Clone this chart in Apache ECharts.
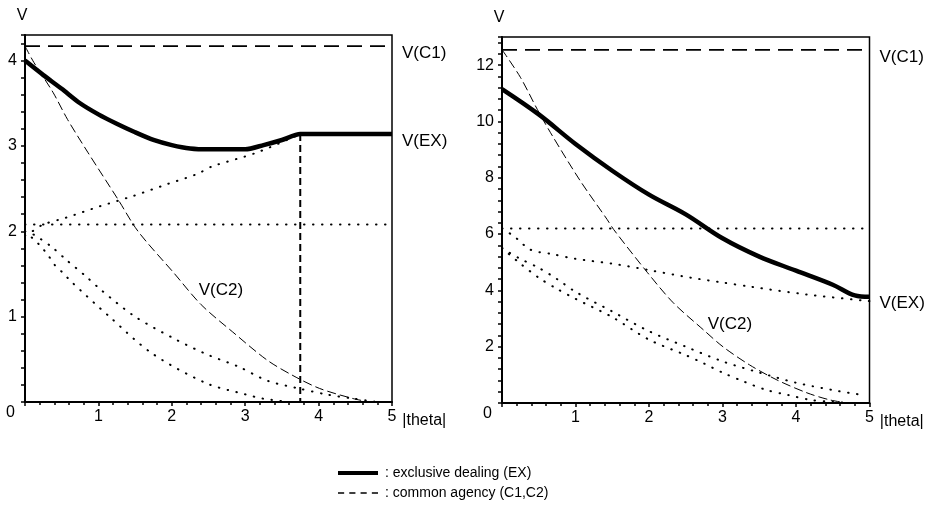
<!DOCTYPE html>
<html>
<head>
<meta charset="utf-8">
<script src="https://cdn.jsdelivr.net/npm/echarts@6/dist/echarts.min.js"></script>
<style>
html,body{margin:0;padding:0;background:#fff;}
#c{width:933px;height:520px;}
</style>
</head>
<body>
<div id="c"></div>
<script>
// ---------- LEFT PANEL DATA ----------
const L_ex_theta = [0, 0.25, 0.5, 0.75, 1.0, 1.25, 1.5, 1.75, 2.0, 2.25, 2.5, 2.75, 3.0, 3.25, 3.5, 3.75, 4.0, 4.5, 5.0];
const L_ex_v     = [4.0, 3.83, 3.67, 3.5, 3.37, 3.26, 3.16, 3.07, 3.01, 2.97, 2.96, 2.96, 2.96, 3.01, 3.07, 3.14, 3.14, 3.14, 3.14];
const L_c1_theta = [0, 5];
const L_c1_v     = [4.17, 4.17];
const L_c2_theta = [0, 0.12, 0.38, 0.58, 0.86, 1.27, 1.54, 2.03, 2.4, 2.83, 3.3, 3.65, 4.01, 4.47, 4.7];
const L_c2_v     = [4.17, 3.98, 3.63, 3.31, 2.92, 2.37, 2.0, 1.51, 1.14, 0.82, 0.49, 0.31, 0.16, 0.04, 0];
const L_vert_theta = [3.75, 3.75];
const L_vert_v     = [3.14, 0];
const L_rise_theta = [0, 0.1, 0.25, 0.56, 1.01, 1.46, 1.93, 2.34, 2.55, 3.15, 3.75];
const L_rise_v     = [1.95, 2.0, 2.08, 2.16, 2.29, 2.41, 2.55, 2.67, 2.76, 2.92, 3.14];
const L_flat_theta = [0, 5];
const L_flat_v     = [2.08, 2.08];
const L_dec1_theta = [0, 0.12, 0.36, 0.57, 0.82, 1.04, 1.5, 2.06, 2.5, 2.92, 3.3, 3.72, 4.1, 4.47, 4.8];
const L_dec1_v     = [2.0, 1.96, 1.82, 1.66, 1.48, 1.31, 1.0, 0.73, 0.55, 0.41, 0.25, 0.16, 0.09, 0.04, 0];
const L_dec2_theta = [0, 0.1, 0.22, 0.33, 0.4, 0.52, 0.63, 1.15, 1.73, 2.47, 3.0, 3.24, 3.6];
const L_dec2_v     = [2.0, 1.92, 1.82, 1.7, 1.61, 1.51, 1.41, 1.0, 0.57, 0.22, 0.09, 0.04, 0];
const L_c2_label_pos = [2.67, 1.31];

// ---------- RIGHT PANEL DATA ----------
const R_ex_theta = [0, 0.5, 1.0, 1.5, 2.0, 2.5, 3.0, 3.5, 4.0, 4.5, 4.8, 5.0];
const R_ex_v     = [11.15, 10.25, 9.2, 8.25, 7.4, 6.7, 5.85, 5.2, 4.7, 4.2, 3.82, 3.77];
const R_c1_theta = [0, 5];
const R_c1_v     = [12.54, 12.54];
const R_c2_theta = [0, 0.25, 0.48, 0.69, 1.07, 1.43, 1.52, 1.98, 2.33, 2.74, 3.01, 3.37, 3.74, 4.15, 4.46, 4.7];
const R_c2_v     = [12.55, 11.57, 10.43, 9.47, 7.87, 6.52, 6.16, 4.63, 3.56, 2.6, 1.99, 1.35, 0.82, 0.36, 0.11, 0];
const R_flat_theta = [0, 5];
const R_flat_v     = [6.2, 6.2];
const R_a_theta = [0, 0.12, 0.22, 0.36, 0.5, 0.66, 1.0, 1.5, 2.0, 2.57, 3.0, 3.38, 4.16, 5.0];
const R_a_v     = [6.2, 6.0, 5.8, 5.48, 5.36, 5.3, 5.12, 4.95, 4.72, 4.45, 4.28, 4.13, 3.85, 3.62];
const R_d_theta = [0, 0.22, 0.5, 0.75, 1.0, 1.5, 2.0, 2.5, 3.0, 3.5, 4.0, 4.5, 4.92];
const R_d_v     = [5.5, 5.16, 4.8, 4.4, 3.95, 3.25, 2.55, 2.0, 1.48, 1.08, 0.72, 0.46, 0.28];
const R_e_theta = [0, 0.25, 0.5, 0.75, 1.0, 1.5, 2.0, 2.5, 2.75, 3.0, 3.3, 3.6, 3.9, 4.2, 4.5, 4.7];
const R_e_v     = [5.5, 4.95, 4.45, 4.05, 3.7, 3.05, 2.25, 1.7, 1.4, 1.08, 0.75, 0.46, 0.28, 0.11, 0.04, 0];
const R_c2_label_pos = [3.1, 2.78];

// ---------- TEXT ----------
const xTicks = [1, 2, 3, 4, 5];
const xName = '|theta|';
const yName = 'V';
const EX_NAME = 'exclusive dealing (EX)';
const CA_NAME = 'common agency (C1,C2)';

const FONT = 'Liberation Sans, Arial, sans-serif';
const pairs = (xs, ys) => xs.map((x, i) => [x, ys[i]]);

function xAxisCfg(gi) {
  return {
    type: 'value', gridIndex: gi, min: 0, max: 5, interval: 1,
    name: xName, nameLocation: 'end', nameGap: 8,
    nameTextStyle: { fontFamily: FONT, fontSize: 16, color: '#000', verticalAlign: 'top', padding: [11, 0, 0, 0] },
    axisLine: { show: true, onZero: false, lineStyle: { color: '#000', width: 2 } },
    axisTick: { show: true, length: 4, lineStyle: { color: '#000', width: 1.5 } },
    minorTick: { show: true, splitNumber: 5, length: 3, lineStyle: { color: '#000', width: 1.5 } },
    splitLine: { show: false },
    axisLabel: { fontFamily: FONT, fontSize: 16, color: '#000', margin: 7,
      formatter: v => (xTicks.indexOf(Math.round(v)) >= 0 && Math.abs(v - Math.round(v)) < 1e-6) ? String(Math.round(v)) : '' }
  };
}
function yAxisCfg(gi, max, step, major) {
  return {
    type: 'value', gridIndex: gi, min: 0, max: max, interval: step,
    name: yName, nameLocation: 'end', nameGap: 11,
    nameTextStyle: { fontFamily: FONT, fontSize: 16, color: '#000', padding: [0, 6, 0, 0] },
    axisLine: { show: true, onZero: false, lineStyle: { color: '#000', width: 2 } },
    axisTick: { show: true, length: 4, lineStyle: { color: '#000', width: 1.5 } },
    splitLine: { show: false },
    axisLabel: { fontFamily: FONT, fontSize: 16, color: '#000', margin: 8,
      formatter: v => {
        const r = Math.round(v / major) * major;
        if (Math.abs(v - r) > 1e-6) return '';
        if (r === 0) return '{z|0}';
        return String(r);
      },
      rich: { z: { fontFamily: FONT, fontSize: 16, color: '#000', padding: [22, 2, 0, 0] } }
    }
  };
}

const dotted = { color: '#000', width: 2, type: [0.5, 8.5], cap: 'round' };

function line(name, xi, xs, ys, style, extra) {
  return Object.assign({
    type: 'line', name: name, xAxisIndex: xi, yAxisIndex: xi,
    data: pairs(xs, ys), symbol: 'none', showSymbol: false, silent: true,
    lineStyle: style, itemStyle: { color: '#000' }, clip: true, animation: false
  }, extra || {});
}
function textMark(xi, pos, txt) {
  return {
    type: 'scatter', xAxisIndex: xi, yAxisIndex: xi, data: [pos], symbolSize: 0, silent: true,
    itemStyle: { color: '#000', opacity: 1 },
    label: { show: true, position: 'inside', formatter: txt, fontFamily: FONT, fontSize: 17,
      color: '#000', opacity: 1, textBorderWidth: 0, textBorderColor: 'transparent' },
    animation: false
  };
}
function endLab(txt, dy) {
  return { show: true, formatter: txt, fontFamily: FONT, fontSize: 17, color: '#000', distance: 10, offset: [0, dy] };
}

const series = [
  // left
  line('L rise', 0, L_rise_theta, L_rise_v, dotted, { smooth: 0.3 }),
  line('L flat', 0, L_flat_theta, L_flat_v, dotted),
  line('L dec1', 0, L_dec1_theta, L_dec1_v, dotted, { smooth: 0.3 }),
  line('L dec2', 0, L_dec2_theta, L_dec2_v, dotted, { smooth: 0.3 }),
  line('V(C2) L', 0, L_c2_theta, L_c2_v, { color: '#000', width: 1, type: [9, 4] }, { smooth: 0.3 }),
  line('L vert', 0, L_vert_theta, L_vert_v, { color: '#000', width: 2, type: [7, 4] }),
  line(CA_NAME, 0, L_c1_theta, L_c1_v, { color: '#000', width: 1.8, type: [15, 8] }, { endLabel: endLab('V(C1)', 7) }),
  line(EX_NAME, 0, L_ex_theta, L_ex_v, { color: '#000', width: 4.5 }, { smooth: 0.25, z: 5, endLabel: endLab('V(EX)', 7) }),
  textMark(0, L_c2_label_pos, 'V(C2)'),
  // right
  line('R flat', 1, R_flat_theta, R_flat_v, dotted),
  line('R a', 1, R_a_theta, R_a_v, dotted, { smooth: 0.3 }),
  line('R d', 1, R_d_theta, R_d_v, dotted, { smooth: 0.3 }),
  line('R e', 1, R_e_theta, R_e_v, dotted, { smooth: 0.3 }),
  line('V(C2) R', 1, R_c2_theta, R_c2_v, { color: '#000', width: 1, type: [9, 4] }, { smooth: 0.3 }),
  line(CA_NAME, 1, R_c1_theta, R_c1_v, { color: '#000', width: 1.8, type: [15, 8] }, { endLabel: endLab('V(C1)', 7) }),
  line(EX_NAME, 1, R_ex_theta, R_ex_v, { color: '#000', width: 4.5 }, { smooth: 0.35, z: 5, endLabel: endLab('V(EX)', 6) }),
  textMark(1, R_c2_label_pos, 'V(C2)')
];

const chart = echarts.init(document.getElementById('c'), null, { renderer: 'canvas' });
chart.setOption({
  backgroundColor: '#fff',
  animation: false,
  textStyle: { fontFamily: FONT },
  grid: [
    { left: 25, top: 35, right: 541, bottom: 118, show: true, borderColor: '#000', borderWidth: 1.5, containLabel: false },
    { left: 502, top: 37, right: 63.5, bottom: 117, show: true, borderColor: '#000', borderWidth: 1.5, containLabel: false }
  ],
  xAxis: [xAxisCfg(0), xAxisCfg(1)],
  yAxis: [yAxisCfg(0, 4.3, 0.2, 1), yAxisCfg(1, 13, 0.4, 2)],
  legend: {
    orient: 'vertical', left: 338, top: 465, padding: 0, itemWidth: 40, itemHeight: 12, itemGap: 4,
    selectedMode: false,
    textStyle: { fontFamily: FONT, fontSize: 14, color: '#000', lineHeight: 16, padding: [0, 0, 0, 2] },
    formatter: n => ': ' + n,
    data: [
      { name: EX_NAME, icon: 'path://M0,0 L40,0 L40,4 L0,4 Z', itemStyle: { color: '#000' } },
      { name: CA_NAME, icon: 'path://M0,0 h6 v1.5 h-6 Z M11,0 h6 v1.5 h-6 Z M22,0 h6 v1.5 h-6 Z M33,0 h6 v1.5 h-6 Z',
        itemStyle: { color: '#000' } }
    ]
  },
  series: series
});
</script>
</body>
</html>
